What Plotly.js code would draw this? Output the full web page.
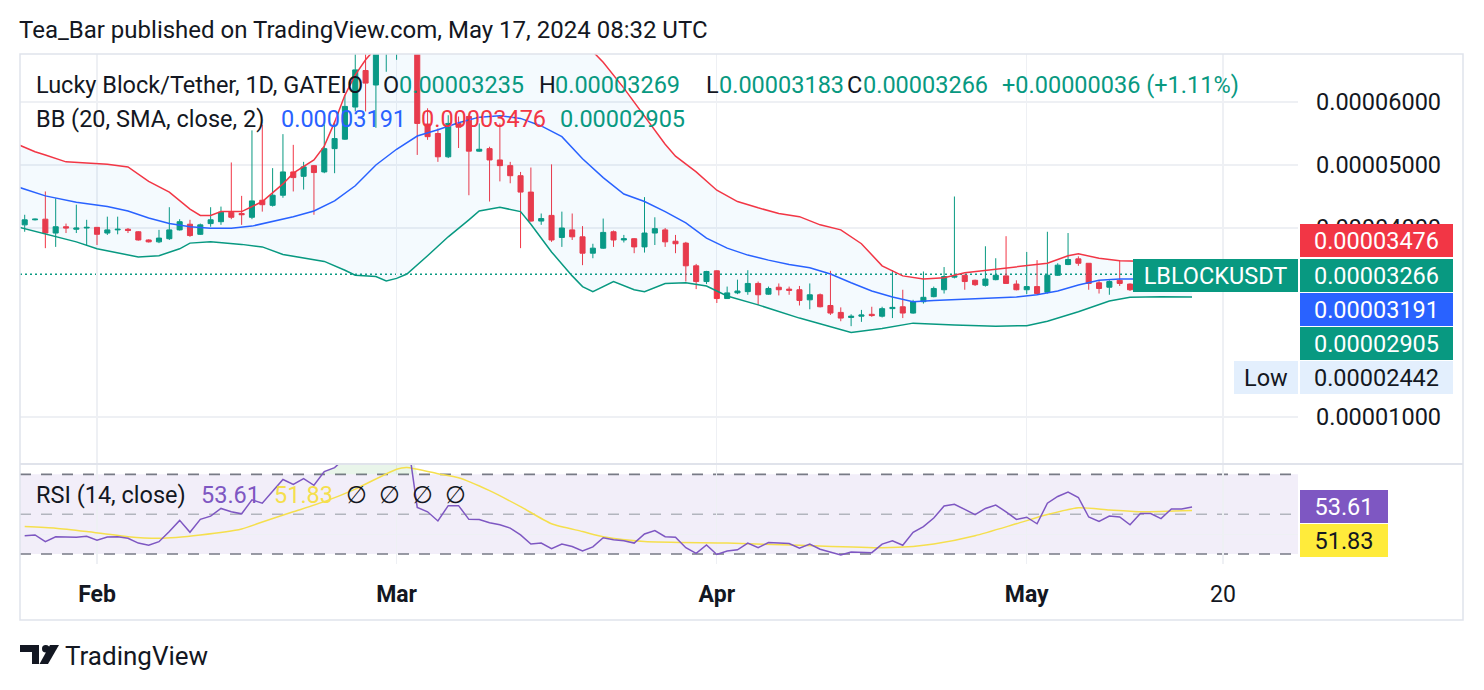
<!DOCTYPE html>
<html><head><meta charset="utf-8">
<script src="https://cdn.plot.ly/plotly-3.0.1.min.js"></script>
<style>html,body{margin:0;padding:0;background:#fff;overflow:hidden}#chart{width:1484px;height:690px}</style>
</head><body><div id="chart"></div>
<script>
// ---------- DATA (prices in units of 1e-5 USDT) ----------
const PRICE_UNIT = 1e-5;
const dates = [
 '2024-01-25','2024-01-26','2024-01-27','2024-01-28','2024-01-29','2024-01-30','2024-01-31',
 '2024-02-01','2024-02-02','2024-02-03','2024-02-04','2024-02-05','2024-02-06','2024-02-07','2024-02-08','2024-02-09','2024-02-10',
 '2024-02-11','2024-02-12','2024-02-13','2024-02-14','2024-02-15','2024-02-16','2024-02-17','2024-02-18','2024-02-19','2024-02-20',
 '2024-02-21','2024-02-22','2024-02-23','2024-02-24','2024-02-25','2024-02-26','2024-02-27','2024-02-28','2024-02-29',
 '2024-03-01','2024-03-02','2024-03-03','2024-03-04','2024-03-05','2024-03-06','2024-03-07','2024-03-08','2024-03-09','2024-03-10',
 '2024-03-11','2024-03-12','2024-03-13','2024-03-14','2024-03-15','2024-03-16','2024-03-17','2024-03-18','2024-03-19','2024-03-20',
 '2024-03-21','2024-03-22','2024-03-23','2024-03-24','2024-03-25','2024-03-26','2024-03-27','2024-03-28','2024-03-29','2024-03-30','2024-03-31',
 '2024-04-01','2024-04-02','2024-04-03','2024-04-04','2024-04-05','2024-04-06','2024-04-07','2024-04-08','2024-04-09','2024-04-10',
 '2024-04-11','2024-04-12','2024-04-13','2024-04-14','2024-04-15','2024-04-16','2024-04-17','2024-04-18','2024-04-19','2024-04-20',
 '2024-04-21','2024-04-22','2024-04-23','2024-04-24','2024-04-25','2024-04-26','2024-04-27','2024-04-28','2024-04-29','2024-04-30',
 '2024-05-01','2024-05-02','2024-05-03','2024-05-04','2024-05-05','2024-05-06','2024-05-07','2024-05-08','2024-05-09','2024-05-10',
 '2024-05-11','2024-05-12','2024-05-13','2024-05-14','2024-05-15','2024-05-16','2024-05-17'];
const openP = [4.05,4.13,4.14,3.92,4.02,3.98,4.00,
 4.01,3.92,3.97,3.98,3.94,3.81,3.78,3.83,3.97,4.06,3.90,4.07,4.10,4.25,4.23,4.17,4.44,4.36,4.52,4.89,4.82,4.99,4.89,5.26,5.41,5.92,6.50,6.27,7.00,
 7.40,7.70,8.10,5.65,5.50,5.13,5.66,5.77,5.22,5.26,5.08,4.99,4.83,4.57,4.11,4.20,3.85,3.97,3.86,3.60,3.68,3.94,3.81,3.83,3.70,3.92,3.97,3.79,3.76,3.40,3.15,
 3.32,2.88,2.97,2.99,3.12,2.95,3.06,3.03,3.02,2.86,2.94,2.77,2.66,2.58,2.60,2.63,2.60,2.72,2.75,2.65,2.83,2.91,3.02,3.22,3.25,3.17,3.09,3.18,3.24,3.11,
 3.02,3.07,2.98,3.25,3.42,3.51,3.44,3.13,3.06,3.17,3.11,3.02,3.10,3.11,3.05,3.20,3.235];
const highP = [4.21,4.15,4.58,4.47,4.07,4.37,4.13,
 4.01,4.18,4.18,4.00,3.95,3.82,3.97,4.33,4.14,4.13,4.07,4.33,4.34,5.04,4.51,5.55,5.64,4.95,5.49,5.32,5.05,5.00,5.64,5.69,6.11,6.95,6.90,7.30,7.80,
 8.00,8.60,8.20,5.90,5.58,5.79,5.77,5.78,5.66,5.29,5.66,5.05,4.89,4.96,4.23,5.01,4.26,4.23,4.03,3.75,4.15,3.96,3.89,3.84,4.49,4.17,4.00,3.89,3.78,3.43,3.32,
 3.33,3.07,3.18,3.33,3.15,3.07,3.12,3.07,3.08,3.12,2.96,3.32,2.74,2.63,2.70,2.75,2.75,3.33,3.02,2.86,3.31,3.07,3.38,4.50,3.26,3.18,3.71,3.52,3.87,3.17,
 3.62,3.49,3.94,3.44,3.92,3.55,3.44,3.17,3.17,3.49,3.12,3.14,3.16,3.13,3.24,3.28,3.269];
const lowP = [3.94,4.12,3.68,3.70,3.92,3.92,3.73,
 3.73,3.89,3.90,3.92,3.80,3.77,3.76,3.81,3.96,3.86,3.89,4.02,4.05,4.14,4.05,4.14,4.26,4.34,4.48,4.58,4.61,4.21,4.87,4.87,5.40,5.85,5.85,5.59,6.48,
 6.67,6.95,5.16,5.40,5.05,5.11,5.27,4.52,5.21,4.42,4.74,4.71,3.68,4.10,4.05,3.78,3.70,3.81,3.41,3.52,3.67,3.70,3.77,3.60,3.61,3.73,3.70,3.60,3.15,3.03,3.11,
 2.81,2.88,2.95,2.94,2.78,2.94,2.93,2.94,2.77,2.71,2.74,2.62,2.52,2.442,2.51,2.59,2.58,2.57,2.57,2.64,2.80,2.90,2.96,3.20,3.02,3.08,3.07,3.17,3.12,3.01,
 2.95,2.94,2.96,3.24,3.41,3.40,3.02,2.96,2.94,3.08,3.00,2.99,3.04,3.02,3.04,3.17,3.183];
const closeP = [4.13,4.14,3.92,4.02,4.00,4.00,4.01,
 3.90,3.97,3.98,3.96,3.81,3.78,3.84,3.97,4.10,3.88,4.05,4.13,4.25,4.17,4.21,4.43,4.37,4.52,4.89,4.80,4.97,4.88,5.26,5.42,5.93,6.51,6.30,7.00,7.40,
 7.70,8.10,5.66,5.45,5.13,5.66,5.60,5.22,5.25,5.08,4.99,4.83,4.57,4.11,4.15,3.81,4.00,3.86,3.60,3.68,3.93,3.81,3.83,3.70,3.92,3.99,3.78,3.75,3.40,3.15,3.31,
 2.88,2.97,3.00,3.12,2.94,3.04,3.02,3.01,2.85,2.94,2.75,2.65,2.57,2.60,2.62,2.61,2.72,2.74,2.65,2.83,2.90,3.04,3.23,3.24,3.15,3.10,3.19,3.25,3.12,3.02,
 3.07,2.96,3.25,3.41,3.50,3.44,3.12,3.04,3.15,3.12,3.02,3.10,3.11,3.05,3.20,3.235,3.266];

// Bollinger bands
const bbUpperDates = ['2024-01-24','2024-01-26','2024-01-27','2024-01-29','2024-01-31','2024-02-02','2024-02-04','2024-02-06','2024-02-08','2024-02-10','2024-02-11','2024-02-12','2024-02-13','2024-02-15','2024-02-17','2024-02-19','2024-02-20','2024-02-21','2024-02-22','2024-02-23','2024-02-24','2024-02-25','2024-02-26','2024-02-27','2024-02-28','2024-02-29','2024-03-01','2024-03-02','2024-03-05','2024-03-10','2024-03-15','2024-03-18','2024-03-20','2024-03-21','2024-03-23','2024-03-25','2024-03-27','2024-03-28','2024-03-30','2024-04-01','2024-04-03','2024-04-05','2024-04-07','2024-04-09','2024-04-11','2024-04-13','2024-04-15','2024-04-17','2024-04-19','2024-04-21','2024-04-23','2024-04-25','2024-04-27','2024-04-29','2024-05-01','2024-05-03','2024-05-05','2024-05-06','2024-05-08','2024-05-10','2024-05-13','2024-05-17'];
const bbUpper = [5.35,5.21,5.16,5.05,5.03,5.01,4.97,4.74,4.57,4.30,4.20,4.20,4.26,4.26,4.42,4.70,4.87,4.97,5.08,5.30,5.68,6.11,6.43,6.67,6.86,7.30,7.80,8.40,8.80,8.90,8.40,7.50,6.80,6.63,6.22,5.78,5.33,5.14,4.89,4.60,4.42,4.32,4.23,4.18,4.05,3.97,3.75,3.40,3.24,3.19,3.21,3.29,3.33,3.37,3.40,3.44,3.56,3.59,3.52,3.48,3.47,3.476];
const bbBasisDates = ['2024-01-24','2024-01-27','2024-01-30','2024-02-02','2024-02-04','2024-02-06','2024-02-08','2024-02-10','2024-02-12','2024-02-14','2024-02-16','2024-02-18','2024-02-20','2024-02-22','2024-02-24','2024-02-26','2024-02-28','2024-03-01','2024-03-03','2024-03-05','2024-03-07','2024-03-09','2024-03-11','2024-03-13','2024-03-15','2024-03-17','2024-03-19','2024-03-21','2024-03-23','2024-03-25','2024-03-27','2024-03-29','2024-03-31','2024-04-02','2024-04-04','2024-04-06','2024-04-08','2024-04-10','2024-04-12','2024-04-14','2024-04-16','2024-04-18','2024-04-20','2024-04-22','2024-04-24','2024-04-26','2024-04-28','2024-04-30','2024-05-02','2024-05-04','2024-05-06','2024-05-08','2024-05-10','2024-05-13','2024-05-17'];
const bbBasis = [4.67,4.51,4.41,4.34,4.27,4.16,4.07,4.02,3.995,3.995,4.03,4.10,4.18,4.27,4.43,4.67,5.00,5.25,5.46,5.56,5.67,5.76,5.78,5.74,5.62,5.45,5.10,4.80,4.54,4.42,4.26,4.08,3.84,3.68,3.57,3.49,3.42,3.37,3.27,3.13,3.00,2.905,2.83,2.85,2.865,2.875,2.89,2.905,2.94,3.00,3.095,3.17,3.19,3.195,3.191];
const bbLowerDates = ['2024-01-24','2024-01-27','2024-01-30','2024-02-01','2024-02-03','2024-02-05','2024-02-07','2024-02-09','2024-02-10','2024-02-12','2024-02-15','2024-02-17','2024-02-19','2024-02-21','2024-02-23','2024-02-25','2024-02-26','2024-02-28','2024-02-29','2024-03-01','2024-03-02','2024-03-04','2024-03-06','2024-03-08','2024-03-09','2024-03-11','2024-03-12','2024-03-13','2024-03-14','2024-03-15','2024-03-16','2024-03-17','2024-03-18','2024-03-19','2024-03-20','2024-03-22','2024-03-24','2024-03-25','2024-03-27','2024-03-29','2024-03-31','2024-04-02','2024-04-05','2024-04-09','2024-04-12','2024-04-14','2024-04-17','2024-04-20','2024-04-24','2024-04-28','2024-05-01','2024-05-03','2024-05-06','2024-05-09','2024-05-11','2024-05-14','2024-05-17'];
const bbLower = [4.03,3.905,3.78,3.67,3.60,3.54,3.56,3.67,3.76,3.78,3.74,3.70,3.58,3.52,3.47,3.33,3.25,3.23,3.16,3.20,3.27,3.56,3.86,4.13,4.27,4.33,4.30,4.26,4.06,3.84,3.62,3.43,3.24,3.07,2.99,3.15,3.02,2.99,3.12,3.13,3.08,2.92,2.78,2.57,2.43,2.34,2.405,2.49,2.46,2.44,2.45,2.52,2.67,2.84,2.90,2.91,2.905];

// RSI (14) per candle, and its moving average read at sample dates
const rsi = [39.2,39.6,36.2,38.7,38.5,38.4,38.9,
 37.0,38.5,38.7,37.9,35.5,34.4,36.2,41.3,46.9,40.9,47.4,49.0,52.9,51.2,50.2,57.2,55.5,61.5,67.4,64.9,67.9,64.5,71.4,73.4,78,83,80,85,87,
 88,90,53.4,51.2,46.6,54.3,54.3,47.4,47.3,45.7,44.7,43.0,39.6,35.0,35.5,32.7,35.0,33.8,31.5,33.6,38.2,37.2,36.7,35.5,40.1,41.8,38.7,38.4,33.2,30.3,34.6,
 29.8,31.5,32.1,35.5,33.2,35.8,35.5,35.3,32.9,35.0,32.4,31.0,29.5,31.0,31.0,30.7,35.0,36.7,34.4,40.9,43.8,48.1,54.1,55.0,52.4,49.8,52.9,54.6,51.2,47.4,
 48.5,45.2,55.5,58.9,61.1,58.4,48.6,46.4,49.1,48.6,44.7,50.3,50.3,47.8,52.6,52.6,53.61];
const rsiMaDates = ['2024-01-25','2024-01-28','2024-01-31','2024-02-04','2024-02-07','2024-02-11','2024-02-15','2024-02-17','2024-02-20','2024-02-23','2024-02-26','2024-03-01','2024-03-02','2024-03-05','2024-03-07','2024-03-10','2024-03-13','2024-03-16','2024-03-19','2024-03-21','2024-03-25','2024-04-02','2024-04-09','2024-04-17','2024-04-20','2024-04-22','2024-04-26','2024-04-30','2024-05-03','2024-05-06','2024-05-09','2024-05-12','2024-05-17'];
const rsiMa = [43.8,43.0,41.3,38.7,37.9,39.6,42.6,46.1,51.2,56.3,62.6,72.6,73.4,70.3,68.3,61.8,53.8,45.2,41.3,38.7,36.3,35.5,34.4,33.2,33.8,35.0,39.2,45.2,49.8,53.2,52.1,51.2,51.83];

const priceTicks = [1,4,5,6];
const monthTickDates = ['2024-02-01','2024-03-01','2024-04-01','2024-05-01','2024-05-20'];
const monthTickText = ['<b>Feb</b>','<b>Mar</b>','<b>Apr</b>','<b>May</b>','20'];

// ---------- STYLE ----------
const FONT = 'Roboto, "Noto Sans", sans-serif';
const FS = 23.5;
const DARK = '#131722', GREEN = '#089981', RED = '#f23645', BLUE = '#2962ff', PURPLE = '#7e57c2', YEL = '#f5df4d';
const GRID = '#eef0f4', BORDER = '#e0e3eb';
const Lpx = 20, Rpx = 1298, Tpx = 54, Bpx = 564;
const px = x => (x - Lpx) / (Rpx - Lpx);
const py = y => (Bpx - y) / (Bpx - Tpx);
const sc = a => a.map(v => v * PRICE_UNIT);
const splitY = py(464);
const OB = 70;
const obIdx = rsi.map((v, i) => i).filter(i => rsi[i] > OB || rsi[i+1] > OB || rsi[i-1] > OB);

const traces = [
 {type:'scatter', mode:'lines', x:bbUpperDates, y:sc(bbUpper), line:{color:RED, width:1.5}, xaxis:'x', yaxis:'y', hoverinfo:'skip'},
 {type:'scatter', mode:'lines', x:bbLowerDates, y:sc(bbLower), line:{color:GREEN, width:1.5}, fill:'tonexty', fillcolor:'rgba(33,150,243,0.05)', xaxis:'x', yaxis:'y', hoverinfo:'skip'},
 {type:'scatter', mode:'lines', x:bbBasisDates, y:sc(bbBasis), line:{color:BLUE, width:1.5}, xaxis:'x', yaxis:'y', hoverinfo:'skip'},
 {type:'candlestick', x:dates, open:sc(openP), high:sc(highP), low:sc(lowP), close:sc(closeP), xaxis:'x', yaxis:'y',
  whiskerwidth:0,
  increasing:{line:{color:GREEN, width:1}, fillcolor:GREEN},
  decreasing:{line:{color:RED, width:1}, fillcolor:RED}, hoverinfo:'skip'},
 // overbought shading
 {type:'scatter', mode:'lines', x:obIdx.map(i => dates[i]), y:obIdx.map(() => OB), line:{width:0, color:'rgba(0,0,0,0)'}, xaxis:'x', yaxis:'y2', hoverinfo:'skip'},
 {type:'scatter', mode:'lines', x:obIdx.map(i => dates[i]), y:obIdx.map(i => Math.max(rsi[i], OB)), line:{width:0, color:'rgba(0,0,0,0)'}, fill:'tonexty', fillcolor:'rgba(76,175,80,0.12)', xaxis:'x', yaxis:'y2', hoverinfo:'skip'},
 {type:'scatter', mode:'lines', x:rsiMaDates, y:rsiMa, line:{color:YEL, width:1.5, shape:'spline', smoothing:0.6}, xaxis:'x', yaxis:'y2', hoverinfo:'skip'},
 {type:'scatter', mode:'lines', x:dates, y:rsi, line:{color:PURPLE, width:1.5}, xaxis:'x', yaxis:'y2', hoverinfo:'skip'}
];

function txt(text, x, y, color, size, extra) {
  return Object.assign({text, xref:'paper', yref:'paper', x:px(x), y:py(y), xanchor:'left', yanchor:'middle',
    showarrow:false, borderpad:0, borderwidth:0, font:{family:FONT, size:size||FS, color:color||DARK}}, extra||{});
}
function box(text, x0, w, yc, bg, fg) {
  return {text, xref:'paper', yref:'paper', x:px(x0), y:py(yc), xanchor:'left', yanchor:'middle', width:w, height:33,
    bgcolor:bg, borderpad:0, borderwidth:0, showarrow:false, align:'center', font:{family:FONT, size:FS, color:fg}};
}

const annotations = [
 txt('Tea_Bar published on TradingView.com, May 17, 2024 08:32 UTC', 19, 30, DARK, 24),
 txt('Lucky Block/Tether, 1D, GATEIO', 36, 85), txt('O', 383, 85), txt('0.00003235', 399, 85, GREEN),
 txt('H', 539, 85), txt('0.00003269', 555, 85, GREEN), txt('L', 706, 85), txt('0.00003183', 719, 85, GREEN),
 txt('C', 847, 85), txt('0.00003266', 863, 85, GREEN), txt('+0.00000036 (+1.11%)', 1002, 85, GREEN),
 txt('BB (20, SMA, close, 2)', 36, 119), txt('0.00003191', 281, 119, BLUE), txt('0.00003476', 421, 119, RED), txt('0.00002905', 560, 119, GREEN),
 txt('RSI (14, close)', 36, 495), txt('53.61', 201, 495, PURPLE), txt('51.83', 274, 495, YEL),
 txt('∅', 346, 495), txt('∅', 379, 495), txt('∅', 412, 495), txt('∅', 445, 495),
 box('0.00003476', 1300, 153, 240.5, RED, '#ffffff'),
 box('0.00003266', 1300, 153, 275.5, GREEN, '#ffffff'),
 box('LBLOCKUSDT', 1133, 165, 275.5, GREEN, '#ffffff'),
 box('0.00003191', 1300, 153, 309.5, BLUE, '#ffffff'),
 box('0.00002905', 1300, 153, 343.5, GREEN, '#ffffff'),
 box('Low', 1234, 64, 377.5, '#e3effd', DARK),
 box('0.00002442', 1300, 153, 377.5, '#e3effd', DARK),
 box('53.61', 1300, 88, 506.5, PURPLE, '#ffffff'),
 box('51.83', 1300, 88, 540.5, '#ffeb3b', DARK),
 txt('TradingView', 65, 656, DARK, 26)
];

const P = (x, y) => px(x) + ',' + py(y);
const lastClose = closeP[closeP.length-1] * PRICE_UNIT;
const shapes = [
 {type:'rect', xref:'paper', yref:'y2', x0:0, x1:1, y0:30, y1:70, fillcolor:'rgba(126,87,194,0.1)', line:{width:0}, layer:'below'},
 {type:'line', xref:'paper', yref:'y2', x0:0, x1:1, y0:70, y1:70, line:{color:'#787b86', width:1.6, dash:'11px,10px'}, layer:'between'},
 {type:'line', xref:'paper', yref:'y2', x0:0, x1:1, y0:50, y1:50, line:{color:'#b2b5be', width:1.4, dash:'11px,10px'}, layer:'between'},
 {type:'line', xref:'paper', yref:'y2', x0:0, x1:1, y0:30, y1:30, line:{color:'#787b86', width:1.6, dash:'11px,10px'}, layer:'between'},
 {type:'line', xref:'paper', yref:'y', x0:0, x1:px(1133), y0:lastClose, y1:lastClose, line:{color:GREEN, width:1.5, dash:'2px,3px'}, layer:'between'},
 {type:'rect', xref:'paper', yref:'paper', x0:0, x1:px(1463), y0:py(620), y1:1, line:{color:BORDER, width:1.5}, fillcolor:'rgba(0,0,0,0)', layer:'above'},
 {type:'line', xref:'paper', yref:'paper', x0:0, x1:px(1463), y0:splitY, y1:splitY, line:{color:BORDER, width:2}, layer:'above'},
 // TradingView logo
 {type:'path', xref:'paper', yref:'paper', path:'M'+P(20,645)+' L'+P(39,645)+' L'+P(39,664)+' L'+P(32,664)+' L'+P(32,652)+' L'+P(20,652)+' Z', fillcolor:DARK, line:{width:0}, layer:'above'},
 {type:'circle', xref:'paper', yref:'paper', x0:px(42), x1:px(49.5), y0:py(652.5), y1:py(645), fillcolor:DARK, line:{width:0}, layer:'above'},
 {type:'path', xref:'paper', yref:'paper', path:'M'+P(50,645)+' L'+P(59,645)+' L'+P(48,664)+' L'+P(39.5,664)+' Z', fillcolor:DARK, line:{width:0}, layer:'above'}
];

const layout = {
  width:1484, height:690, paper_bgcolor:'#ffffff', plot_bgcolor:'rgba(0,0,0,0)',
  margin:{l:Lpx, r:1484-Rpx, t:Tpx, b:690-Bpx, pad:0},
  showlegend:false, hovermode:false,
  font:{family:FONT, color:DARK},
  xaxis:{type:'date', anchor:'y2', range:['2024-01-24 13:06','2024-05-27 06:14'], rangeslider:{visible:false},
    tickmode:'array', tickvals:monthTickDates, ticktext:monthTickText, ticks:'', showgrid:true, gridcolor:GRID, gridwidth:1.2,
    zeroline:false, showline:false, tickfont:{family:FONT, size:23, color:DARK}, ticklabelstandoff:14, fixedrange:true},
  yaxis:{domain:[splitY, 1], anchor:'x', side:'right', range:[0.254*PRICE_UNIT, 6.762*PRICE_UNIT],
    tickmode:'array', tickvals:sc(priceTicks), ticktext:priceTicks.map(v => (v*PRICE_UNIT).toFixed(8)), ticks:'',
    showgrid:true, gridcolor:GRID, gridwidth:1.2, zeroline:false, showline:false,
    tickfont:{family:FONT, size:FS, color:DARK}, ticklabelstandoff:17, fixedrange:true},
  yaxis2:{domain:[0, splitY], anchor:'x', side:'right', range:[25, 75.2], tickmode:'array', tickvals:[40], showticklabels:false,
    ticks:'', showgrid:true, gridcolor:GRID, gridwidth:1.2, zeroline:false, showline:false, fixedrange:true},
  annotations, shapes
};

Plotly.newPlot('chart', traces, layout, {staticPlot:true, displayModeBar:false});
</script>
</body></html>
